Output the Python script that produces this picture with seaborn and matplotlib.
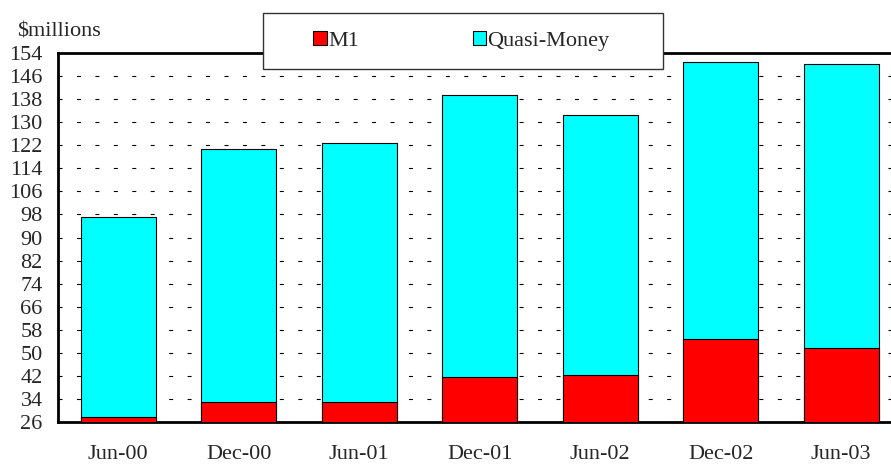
import matplotlib
matplotlib.use('Agg')
import matplotlib.pyplot as plt
import matplotlib.patches as mpatches
import seaborn as sns

# data
periods = ['Jun-00', 'Dec-00', 'Jun-01', 'Dec-01', 'Jun-02', 'Dec-02', 'Jun-03']
m1 = [27.6, 33.0, 33.0, 41.5, 42.2, 54.9, 51.5]
quasi_money = [69.4, 87.6, 90.0, 97.9, 90.2, 96.2, 98.9]
y_ticks = list(range(26, 155, 8))

total = [a + b for a, b in zip(m1, quasi_money)]

sns.set_style('white')
plt.rcParams['font.family'] = ['Liberation Serif', 'DejaVu Serif']
plt.rcParams['font.size'] = 16

fig = plt.figure(figsize=(8.91, 4.65), dpi=100)
ax = fig.add_axes([58 / 891, 1 - 421.7 / 465, 1 - 58 / 891, (421.7 - 53.3) / 465])

# stacked bars: full height in cyan, M1 drawn over the bottom part
sns.barplot(x=periods, y=total, color='#00FFFF', saturation=1, width=0.62,
            edgecolor='black', linewidth=0.8, label='Quasi-Money', ax=ax, zorder=3)
sns.barplot(x=periods, y=m1, color='#FF0000', saturation=1, width=0.62,
            edgecolor='black', linewidth=0.8, label='M1', ax=ax, zorder=3)

ax.set_ylim(26, 154)
ax.set_yticks(y_ticks)
ax.set_xlim(-0.5, 6.413)
ax.set_xlabel('')
ax.set_ylabel('')
ax.tick_params(axis='both', length=0)
ax.tick_params(axis='y', pad=11)
ax.tick_params(axis='x', pad=17)

ax.yaxis.grid(True, color='black', linewidth=0.8, linestyle=(0, (3.6, 13)), zorder=0)
ax.set_axisbelow(True)

for side in ['left', 'bottom', 'top']:
    ax.spines[side].set_linewidth(2)
    ax.spines[side].set_color('black')
ax.spines['right'].set_visible(False)

# legend box sitting across the top spine
box = mpatches.Rectangle((0.2461, 0.9574), 0.4802, 0.1512, transform=ax.transAxes,
                         facecolor='white', edgecolor='#333333', linewidth=1,
                         clip_on=False, zorder=5)
ax.add_patch(box)
handles, labels = ax.get_legend_handles_labels()
order = [labels.index('M1'), labels.index('Quasi-Money')]
leg = ax.legend([handles[i] for i in order], [labels[i] for i in order],
                loc='center', bbox_to_anchor=(0.4844, 1.0334), ncol=2,
                frameon=False, borderpad=0, handlelength=0.59, handleheight=0.59,
                handletextpad=0.08, columnspacing=5.1, fontsize=16)
leg.set_zorder(6)

fig.text(17 / 891, 1 - 36 / 465, '$millions', fontsize=16, va='baseline', ha='left')

fig.savefig('out.png', dpi=100)
